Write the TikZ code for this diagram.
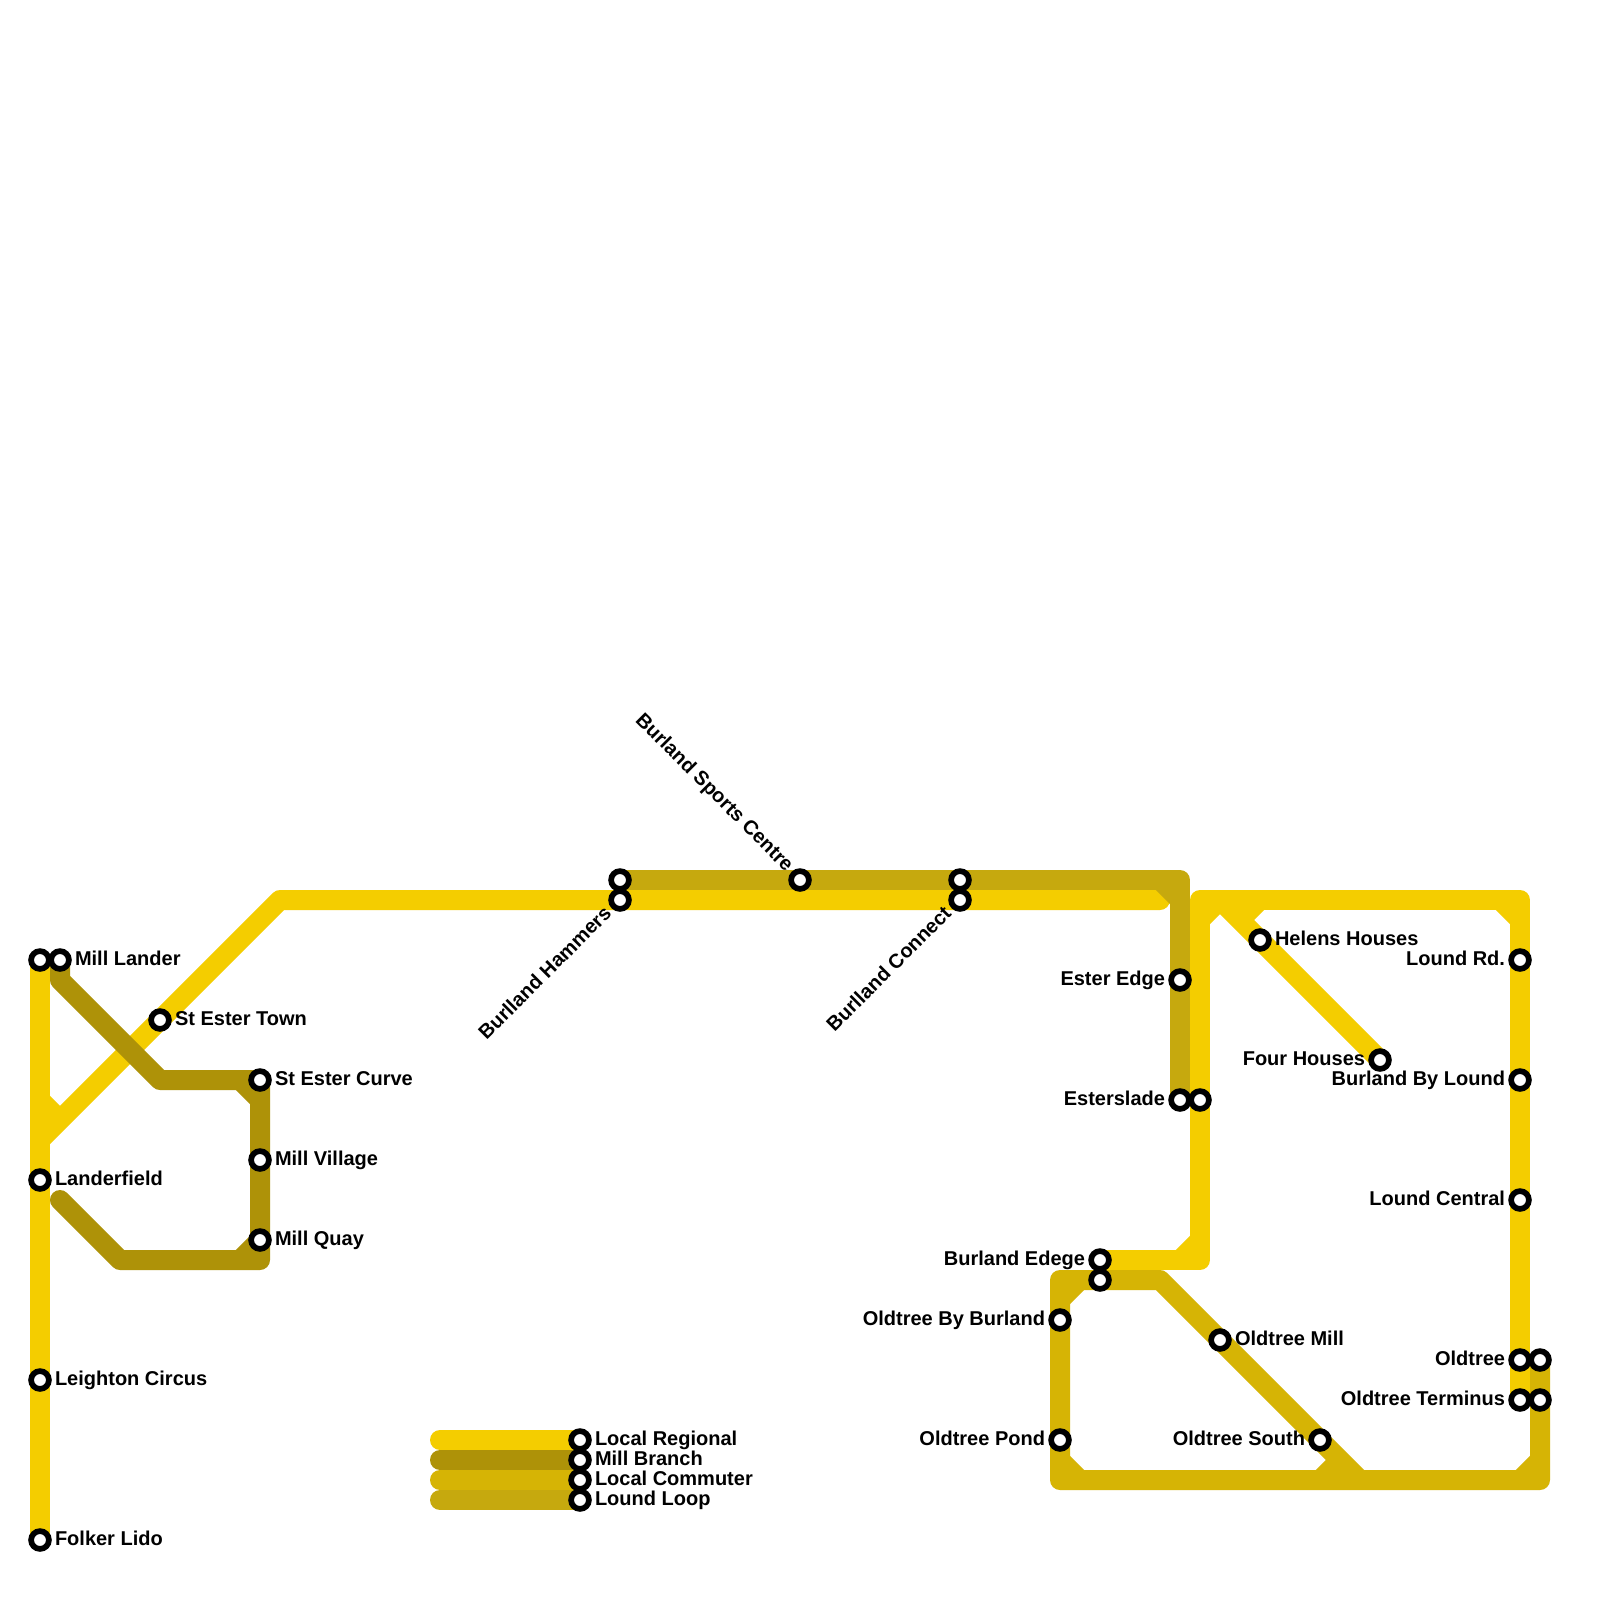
\documentclass[tikz,border=0pt]{standalone}
\usepackage{fontspec}
\setmainfont{Liberation Sans}
\usetikzlibrary{backgrounds}
\definecolor{regional}{HTML}{F4CD00}
\definecolor{millc}{HTML}{AE9208}
\definecolor{commuter}{HTML}{D6B405}
\definecolor{loundc}{HTML}{C6A90E}
\tikzset{
  stn/.style={circle,draw=black,fill=white,line width=5.7pt,inner sep=0pt,minimum size=17.8pt},
  lab/.style={font=\bfseries\fontsize{20}{24}\selectfont,text=black,inner sep=0pt,outer sep=0pt},
  labr/.style={lab,anchor=base west},
  labl/.style={lab,anchor=base east},
  track/.style={line width=20pt,line cap=round,line join=round},
  fillet/.style={line width=20pt,line cap=butt}
}
\begin{document}
\begin{tikzpicture}[x=1pt,y=-1pt]
\useasboundingbox (0,0) rectangle (1600,1600);
% bends
\coordinate (a1) at (40,1140);
\coordinate (a2) at (280,900);
\coordinate (a3) at (1160,900);
\coordinate (b1) at (60,980);
\coordinate (b2) at (160,1080);
\coordinate (b3) at (260,1260);
\coordinate (b4) at (120,1260);
\coordinate (b5) at (60,1200);
\coordinate (c1) at (1200,1260);
\coordinate (c2) at (1200,900);
\coordinate (c3) at (1520,900);
\coordinate (c4) at (1220,900);
\coordinate (d1) at (1540,1480);
\coordinate (d2) at (1060,1480);
\coordinate (d3) at (1060,1280);
\coordinate (d4) at (1160,1280);
\coordinate (d5) at (1360,1480);
\coordinate (e1) at (1180,880);
\coordinate (k1) at (440,1440);
\coordinate (k2) at (440,1460);
\coordinate (k3) at (440,1480);
\coordinate (k4) at (440,1500);
% stations
\node[stn] (s1) at (40,960) {};
\node[stn] (s2) at (60,960) {};
\node[stn] (s3) at (160,1020) {};
\node[stn] (s4) at (260,1080) {};
\node[stn] (s5) at (260,1160) {};
\node[stn] (s6) at (260,1240) {};
\node[stn] (s7) at (40,1180) {};
\node[stn] (s8) at (40,1380) {};
\node[stn] (s9) at (40,1540) {};
\node[stn] (s10) at (620,880) {};
\node[stn] (s11) at (620,900) {};
\node[stn] (s12) at (800,880) {};
\node[stn] (s13) at (960,880) {};
\node[stn] (s14) at (960,900) {};
\node[stn] (s15) at (1180,980) {};
\node[stn] (s16) at (1180,1100) {};
\node[stn] (s17) at (1200,1100) {};
\node[stn] (s18) at (1260,940) {};
\node[stn] (s19) at (1380,1060) {};
\node[stn] (s20) at (1520,960) {};
\node[stn] (s21) at (1520,1080) {};
\node[stn] (s22) at (1520,1200) {};
\node[stn] (s23) at (1520,1360) {};
\node[stn] (s24) at (1540,1360) {};
\node[stn] (s25) at (1520,1400) {};
\node[stn] (s26) at (1540,1400) {};
\node[stn] (s27) at (1100,1260) {};
\node[stn] (s28) at (1100,1280) {};
\node[stn] (s29) at (1060,1320) {};
\node[stn] (s30) at (1060,1440) {};
\node[stn] (s31) at (1220,1340) {};
\node[stn] (s32) at (1320,1440) {};
\node[stn] (k1s) at (580,1440) {};
\node[stn] (k2s) at (580,1460) {};
\node[stn] (k3s) at (580,1480) {};
\node[stn] (k4s) at (580,1500) {};
% labels
\node[labr] (t2) at (75,965) {Mill Lander};
\node[labr] (t3) at (175,1025) {St Ester Town};
\node[labr] (t4) at (275,1085) {St Ester Curve};
\node[labr] (t5) at (275,1165) {Mill Village};
\node[labr] (t6) at (275,1245) {Mill Quay};
\node[labr] (t7) at (55,1185) {Landerfield};
\node[labr] (t8) at (55,1385) {Leighton Circus};
\node[labr] (t9) at (55,1545) {Folker Lido};
\node[labl,rotate=45] (t11) at (612.4,914.6) {Burlland Hammers};
\node[labl,rotate=-45] (t12) at (785.6,872.4) {Burland Sports Centre};
\node[labl,rotate=45] (t14) at (952.4,914.6) {Burlland Connect};
\node[labl] (t15) at (1165,985) {Ester Edge};
\node[labl] (t16) at (1165,1105) {Esterslade};
\node[labr] (t18) at (1275,945) {Helens Houses};
\node[labl] (t19) at (1365,1065) {Four Houses};
\node[labl] (t20) at (1505,965) {Lound Rd.};
\node[labl] (t21) at (1505,1085) {Burland By Lound};
\node[labl] (t22) at (1505,1205) {Lound Central};
\node[labl] (t23) at (1505,1365) {Oldtree};
\node[labl] (t25) at (1505,1405) {Oldtree Terminus};
\node[labl] (t27) at (1085,1265) {Burland Edege};
\node[labl] (t29) at (1045,1325) {Oldtree By Burland};
\node[labl] (t30) at (1045,1445) {Oldtree Pond};
\node[labr] (t31) at (1235,1345) {Oldtree Mill};
\node[labl] (t32) at (1305,1445) {Oldtree South};
\node[labr] (kt1) at (595,1445) {Local Regional};
\node[labr] (kt2) at (595,1465) {Mill Branch};
\node[labr] (kt3) at (595,1485) {Local Commuter};
\node[labr] (kt4) at (595,1505) {Lound Loop};
\begin{pgfonlayer}{background}
  \fill[white] (0,0) rectangle (1600,1600);
  % Local Regional
  \draw[track,regional] (s1.center) -- (s9.center);
  \draw[track,regional] (a1) -- (s3.center) -- (a2) -- (a3);
  \draw[fillet,regional] (a1) ++(0,-40) -- ++(20,20);
  \draw[track,regional] (s27.center) -- (c1) -- (c2) -- (c3) -- (s25.center);
  \draw[track,regional] (c4) -- (s18.center) -- (s19.center);
  \draw[fillet,regional] (c1) ++(-20,0) -- ++(20,-20);
  \draw[fillet,regional] (c2) ++(0,20) -- ++(20,-20);
  \draw[fillet,regional] (c3) ++(-20,0) -- ++(20,20);
  \draw[fillet,regional] (c2) ++(60,0) -- ++(-20,20);
  % Mill Branch
  \draw[track,millc] (s2.center) -- (b1) -- (b2) -- (s4.center) -- (b3) -- (b4) -- (b5);
  \draw[fillet,millc] (s4.center) ++(-20,0) -- ++(20,20);
  \draw[fillet,millc] (b3) ++(-20,0) -- ++(20,-20);
  % Local Commuter
  \draw[track,commuter] (s24.center) -- (d1) -- (d2) -- (d3) -- (d4) -- (d5);
  \draw[fillet,commuter] (d3) ++(0,20) -- ++(20,-20);
  \draw[fillet,commuter] (d2) ++(0,-20) -- ++(20,20);
  \draw[fillet,commuter] (d1) ++(-20,0) -- ++(20,-20);
  \draw[fillet,commuter] (d5) ++(-40,0) -- ++(20,-20);
  % Lound Loop
  \draw[track,loundc] (s10.center) -- (e1) -- (s16.center);
  \draw[fillet,loundc] (e1) ++(-20,0) -- ++(20,20);
  % Legend
  \draw[track,regional] (k1) -- (k1s.center);
  \draw[track,millc] (k2) -- (k2s.center);
  \draw[track,commuter] (k3) -- (k3s.center);
  \draw[track,loundc] (k4) -- (k4s.center);
\end{pgfonlayer}
\end{tikzpicture}
\end{document}
